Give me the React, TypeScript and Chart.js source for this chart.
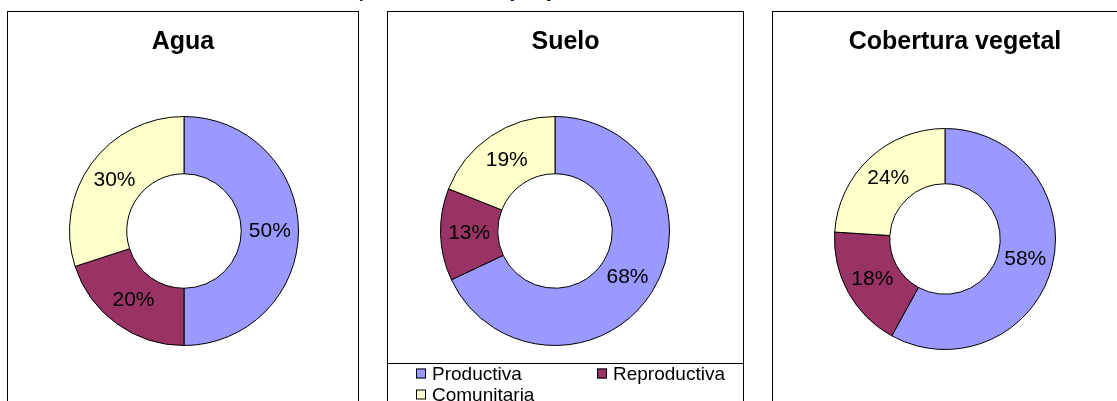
import React, { useEffect, useRef } from "react";
import { Chart, registerables } from "chart.js";

Chart.register(...registerables);

// ---- Data ----
const categories = ["Productiva", "Reproductiva", "Comunitaria"];
const aguaValues = [50, 20, 30];
const sueloValues = [68, 13, 19];
const coberturaValues = [58, 18, 24];
const panelTitles = ["Agua", "Suelo", "Cobertura vegetal"];
const sliceColors = ["#9999FF", "#993366", "#FFFFCC"];
const pageTitle = "Participación de hombres y mujeres en las actividades";

const FONT = 'Arial, "Liberation Sans", sans-serif';

const panelTitlePlugin = {
  id: "panelTitle",
  afterDraw(chart: any, _args: any, opts: any) {
    if (!opts || !opts.text) return;
    const ctx = chart.ctx;
    ctx.save();
    ctx.font = `bold ${opts.size}px ${FONT}`;
    ctx.fillStyle = "#000";
    ctx.textAlign = "center";
    ctx.textBaseline = "middle";
    ctx.fillText(opts.text, chart.width / 2, opts.y);
    ctx.restore();
  },
};

const sliceLabelPlugin = {
  id: "sliceLabels",
  afterDatasetsDraw(chart: any, _args: any, opts: any) {
    const ctx = chart.ctx;
    const meta = chart.getDatasetMeta(0);
    const data = chart.data.datasets[0].data;
    ctx.save();
    ctx.font = `${opts.size}px ${FONT}`;
    ctx.fillStyle = "#000";
    ctx.textAlign = "center";
    ctx.textBaseline = "middle";
    meta.data.forEach((arc: any, i: number) => {
      const p = arc.tooltipPosition();
      ctx.fillText(`${data[i]}%`, p.x, p.y);
    });
    ctx.restore();
  },
};

const gridLegendPlugin = {
  id: "gridLegend",
  afterDraw(chart: any, _args: any, opts: any) {
    if (!opts || !opts.show) return;
    const ctx = chart.ctx;
    const ds = chart.data.datasets[0];
    ctx.save();
    ctx.strokeStyle = "#000";
    ctx.lineWidth = 1;
    ctx.beginPath();
    ctx.moveTo(0, opts.lineY + 0.5);
    ctx.lineTo(chart.width, opts.lineY + 0.5);
    ctx.stroke();
    ctx.font = `${opts.size}px ${FONT}`;
    ctx.textAlign = "left";
    ctx.textBaseline = "middle";
    chart.data.labels.forEach((label: string, i: number) => {
      const col = i % 2;
      const row = Math.floor(i / 2);
      const bx = opts.cols[col];
      const cy = opts.rowY + row * opts.rowGap;
      const b = opts.box;
      ctx.fillStyle = ds.backgroundColor[i];
      ctx.fillRect(bx, cy - b / 2, b, b);
      ctx.strokeStyle = "#000";
      ctx.strokeRect(bx + 0.5, cy - b / 2 + 0.5, b - 1, b - 1);
      ctx.fillStyle = "#000";
      ctx.fillText(label, bx + b + 6, cy + 1);
    });
    ctx.restore();
  },
};

type PanelProps = {
  left: number;
  outerWidth: number;
  title: string;
  values: number[];
  padding: { top: number; bottom: number; left: number; right: number };
  legend?: boolean;
};

function Panel({ left, outerWidth, title, values, padding, legend }: PanelProps) {
  const ref = useRef<HTMLCanvasElement | null>(null);
  const cw = outerWidth - 2;
  const ch = 400;
  useEffect(() => {
    if (!ref.current) return;
    const chart = new Chart(ref.current, {
      type: "doughnut",
      data: {
        labels: categories,
        datasets: [
          {
            data: values,
            backgroundColor: sliceColors,
            borderColor: "#000",
            borderWidth: 1,
          },
        ],
      },
      options: {
        responsive: false,
        animation: false,
        devicePixelRatio: 1,
        cutout: "50%",
        layout: { padding },
        plugins: {
          legend: { display: false },
          tooltip: { enabled: false },
          title: { display: false },
          panelTitle: { text: title, size: 25, y: 30 },
          sliceLabels: { size: 21 },
          gridLegend: {
            show: !!legend,
            lineY: 351,
            size: 19,
            cols: [28, 209],
            rowY: 361.5,
            rowGap: 21,
            box: 10,
          },
        } as any,
      },
      plugins: [panelTitlePlugin, sliceLabelPlugin, gridLegendPlugin],
    });
    return () => chart.destroy();
  }, []);
  return (
    <div
      style={{
        position: "absolute",
        left,
        top: 11,
        width: outerWidth,
        height: ch + 2,
        boxSizing: "border-box",
        border: "1px solid #000",
        background: "#fff",
      }}
    >
      <canvas ref={ref} width={cw} height={ch} style={{ display: "block", width: cw, height: ch }} />
    </div>
  );
}

export default function App() {
  return (
    <div
      style={{
        position: "absolute",
        left: 0,
        top: 0,
        width: 1117,
        height: 401,
        overflow: "hidden",
        background: "#fff",
      }}
    >
      <div
        style={{
          position: "absolute",
          left: 310,
          top: -15,
          fontFamily: FONT,
          fontWeight: "bold",
          fontSize: 16,
          lineHeight: "16px",
          whiteSpace: "nowrap",
          color: "#000",
        }}
      >
        {pageTitle}
      </div>
      <Panel
        left={7}
        outerWidth={352}
        title={panelTitles[0]}
        values={aguaValues}
        padding={{ top: 104, bottom: 66, left: 2, right: 0 }}
      />
      <Panel
        left={387}
        outerWidth={357}
        title={panelTitles[1]}
        values={sueloValues}
        padding={{ top: 104, bottom: 66, left: 0, right: 21 }}
        legend
      />
      <Panel
        left={772}
        outerWidth={366}
        title={panelTitles[2]}
        values={coberturaValues}
        padding={{ top: 116, bottom: 62, left: 0, right: 20 }}
      />
    </div>
  );
}
